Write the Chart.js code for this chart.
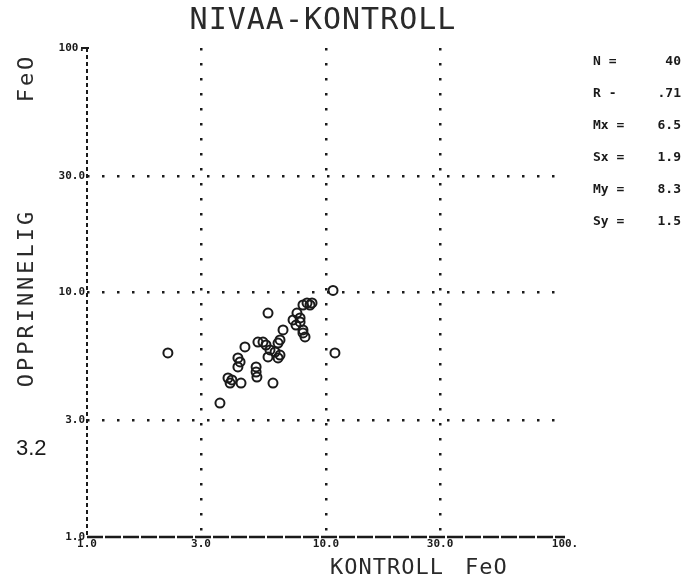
<!DOCTYPE html>
<html>
<head>
<meta charset="utf-8">
<script src="https://cdn.jsdelivr.net/npm/chart.js@4"></script>
<style>
  body { margin: 0; background: #fff; }
  #chart { display: block; }
</style>
</head>
<body>
<canvas id="chart" width="691" height="587"></canvas>
<script>
const tickValues = [1, 3, 10, 30, 100];
const xTickLabels = ['1.0', '3.0', '10.0', '30.0', '100.'];
const yTickLabels = ['1.0', '3.0', '10.0', '30.0', '100.'];

// KONTROLL FeO (x) vs OPPRINNELIG FeO (y)
const kontrollFeO = [2.18, 10.7, 10.9, 8.33, 8.74, 8.01, 5.72, 7.56, 7.28, 6.61,
    8.01, 8.17, 5.45, 5.19, 6.30, 4.58, 5.83, 6.30, 5.72, 4.28,
    4.28, 5.10, 5.14, 3.89, 3.97, 4.41, 6.00, 3.60, 7.79, 7.49,
    5.61, 6.12, 6.42, 8.57, 4.37, 5.10, 4.04, 7.79, 6.42, 8.01];
const opprinneligFeO = [5.66, 10.2, 5.66, 9.06, 9.06, 8.89, 8.24, 8.24, 7.72, 7.03,
    7.03, 6.58, 6.27, 6.27, 6.21, 5.99, 5.82, 5.40, 5.45, 5.40,
    4.96, 4.96, 4.51, 4.47, 4.26, 4.26, 4.26, 3.53, 7.87, 7.36,
    6.10, 5.71, 5.55, 8.89, 5.20, 4.73, 4.39, 7.58, 6.40, 6.83];

const statLabels = ['N =', 'R -', 'Mx =', 'Sx =', 'My =', 'Sy ='];
const statValues = ['40', '.71', '6.5', '1.9', '8.3', '1.5'];

const ink = '#1a1a1a';
const monoFont = '"DejaVu Sans Mono", monospace';

function isInnerTick(ctx) {
    return ctx.tick && ctx.tick.value > 1 && ctx.tick.value < 100;
}

const annotations = {
    id: 'annotations',
    beforeDatasetsDraw(chart) {
        const ctx = chart.ctx;
        const area = chart.chartArea;
        ctx.save();
        ctx.strokeStyle = ink;
        // left axis, dash-dotted
        ctx.lineWidth = 2;
        ctx.setLineDash([4, 3]);
        ctx.beginPath();
        ctx.moveTo(area.left, area.top);
        ctx.lineTo(area.left, area.bottom);
        ctx.stroke();
        // short cap at the top of the axis
        ctx.setLineDash([]);
        ctx.beginPath();
        ctx.moveTo(area.left - 6, area.top);
        ctx.lineTo(area.left + 2, area.top);
        ctx.stroke();
        // bottom axis
        ctx.lineWidth = 2.5;
        ctx.setLineDash([16, 2]);
        ctx.beginPath();
        ctx.moveTo(area.left, area.bottom);
        ctx.lineTo(area.right, area.bottom);
        ctx.stroke();
        ctx.restore();
    },
    afterDraw(chart) {
        const ctx = chart.ctx;
        ctx.save();
        ctx.fillStyle = ink;
        ctx.textBaseline = 'middle';

        // title
        ctx.fillStyle = '#2a2a2a';
        ctx.font = '30px ' + monoFont;
        ctx.letterSpacing = '1px';
        ctx.textAlign = 'center';
        ctx.fillText('NIVAA-KONTROLL', 323, 21);

        // x axis title
        ctx.font = '22px ' + monoFont;
        ctx.letterSpacing = '1px';
        ctx.textAlign = 'left';
        ctx.fillText('KONTROLL', 330, 568);
        ctx.fillText('FeO', 465, 568);

        // y axis title
        ctx.save();
        ctx.translate(27, 0);
        ctx.rotate(-Math.PI / 2);
        ctx.textAlign = 'center';
        ctx.letterSpacing = '3px';
        ctx.fillText('OPPRINNELIG', -298, 0);
        ctx.fillText('FeO', -78, 0);
        ctx.restore();

        // statistics panel
        ctx.fillStyle = ink;
        ctx.letterSpacing = '0px';
        ctx.font = 'bold 13px ' + monoFont;
        const rowTop = 62;
        const rowGap = 32;
        statLabels.forEach((label, i) => {
            const y = rowTop + i * rowGap;
            ctx.textAlign = 'left';
            ctx.fillText(label, 593, y);
            ctx.textAlign = 'right';
            ctx.fillText(statValues[i], 681, y);
        });

        // handwritten figure number
        ctx.font = '22px "Liberation Sans", Arial, sans-serif';
        ctx.textAlign = 'left';
        ctx.fillText('3.2', 16, 449);
        ctx.restore();
    }
};

function init() {
    const ctx = document.getElementById('chart').getContext('2d');
    new Chart(ctx, {
        type: 'scatter',
        data: {
            datasets: [{
                label: 'FeO',
                data: kontrollFeO.map((x, i) => ({ x: x, y: opprinneligFeO[i] })),
                pointStyle: 'circle',
                pointRadius: 4.5,
                pointBorderWidth: 2,
                borderColor: ink,
                backgroundColor: 'rgba(255,255,255,0)'
            }]
        },
        options: {
            responsive: false,
            animation: false,
            layout: {
                padding: { left: 0, right: 126, top: 48, bottom: 0 }
            },
            scales: {
                x: {
                    type: 'logarithmic',
                    min: 1,
                    max: 100,
                    afterBuildTicks: scale => {
                        scale.ticks = tickValues.map(v => ({ value: v }));
                    },
                    afterFit: scale => {
                        scale.height = 50;
                    },
                    ticks: {
                        autoSkip: false,
                        maxRotation: 0,
                        padding: 1,
                        color: ink,
                        font: { family: monoFont, size: 11, weight: 'bold' },
                        callback: (value, index) => xTickLabels[index]
                    },
                    grid: {
                        color: ctx => isInnerTick(ctx) ? ink : 'rgba(0,0,0,0)',
                        lineWidth: 2.5,
                        drawTicks: false
                    },
                    border: { display: false, dash: [2.5, 12.5] }
                },
                y: {
                    type: 'logarithmic',
                    min: 1,
                    max: 100,
                    afterBuildTicks: scale => {
                        scale.ticks = tickValues.map(v => ({ value: v }));
                    },
                    afterFit: scale => {
                        scale.width = 87;
                    },
                    ticks: {
                        autoSkip: false,
                        padding: 2,
                        color: ink,
                        font: { family: monoFont, size: 11, weight: 'bold' },
                        callback: (value, index) => yTickLabels[index]
                    },
                    grid: {
                        color: ctx => isInnerTick(ctx) ? ink : 'rgba(0,0,0,0)',
                        lineWidth: 2.5,
                        drawTicks: false
                    },
                    border: { display: false, dash: [2.5, 12.5] }
                }
            },
            plugins: {
                legend: { display: false },
                title: { display: false },
                tooltip: { enabled: false }
            }
        },
        plugins: [annotations]
    });
}

init();
</script>
</body>
</html>
